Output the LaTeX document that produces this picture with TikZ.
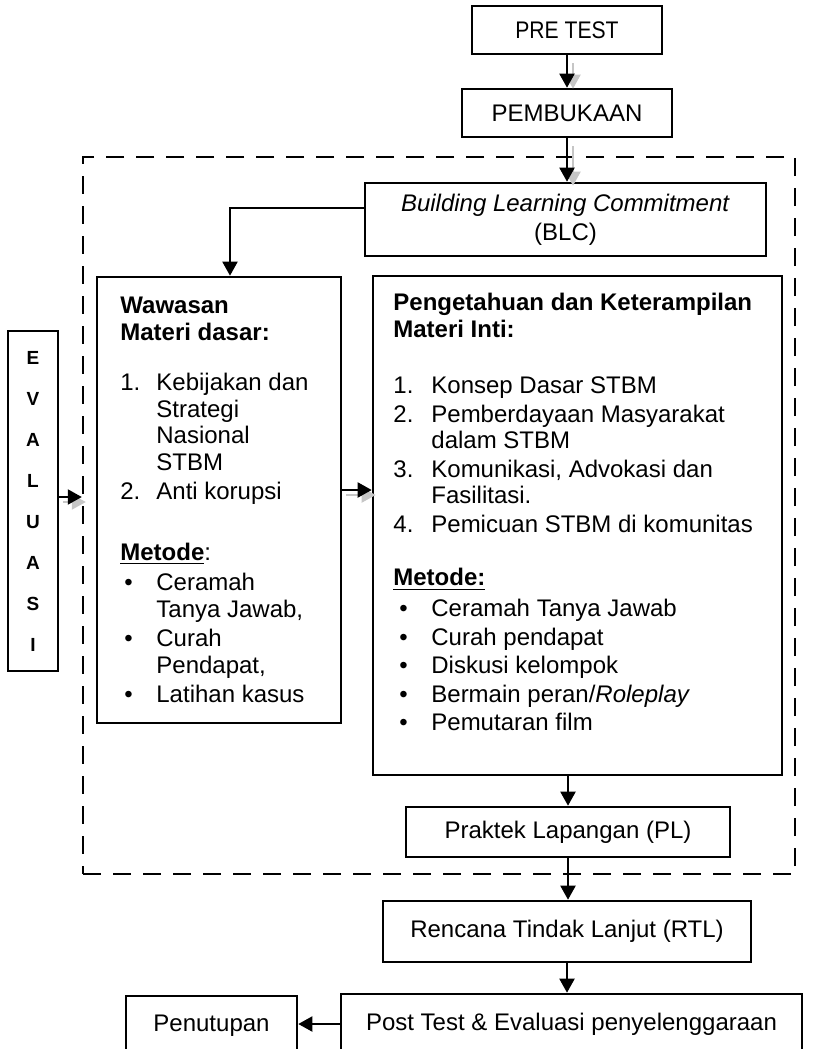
\documentclass[tikz,border=0pt]{standalone}
\usepackage{fontspec}
\setmainfont{Liberation Sans}
\newfontfamily\narrowfont[FakeStretch=0.88]{Liberation Sans}
\usepackage{array}
\usetikzlibrary{arrows.meta, positioning}

\begin{document}
\begin{tikzpicture}[x = 0.5pt, y = -0.5pt,
			> = {Triangle[length=7pt, width=7.5pt]},
			font = \fontsize{12}{13.25}\selectfont,
			box/.style = {draw, line width=1.3pt, inner sep=0pt, align=center},
			link/.style = {->, line width=1pt},
			ghost/.style = {->, line width=1pt, gray!45},
			frame/.style = {draw, line width=1.2pt, dash pattern=on 9pt off 6pt}]
			\useasboundingbox (0,0) rectangle (818,1049);
			\clip (0,0) rectangle (818,1049);
			
			% dashed frame round the core sessions
			\node[frame, minimum width=356pt, minimum height=358.5pt] (frame) at (439,515.5) {};
			
			\node[box, minimum width=95pt, minimum height=24pt,
				font=\narrowfont\fontsize{12}{14}\selectfont] (pretest) at (567,30) {PRE TEST};
			\node[box, minimum width=105pt, minimum height=24pt] (pembukaan) at (567,113) {PEMBUKAAN};
			\node[box, minimum width=200.5pt, minimum height=36.5pt,
				font=\fontsize{12}{14.5}\selectfont] (blc) at (565.5,219.5)
				{\textit{Building Learning Commitment}\\(BLC)};
			\node[box, minimum width=25pt, minimum height=170pt,
				font=\fontsize{9.5}{20.5}\selectfont\bfseries] (evaluasi) at (33,501)
				{E\\V\\A\\L\\U\\A\\S\\I};
			\node[box, minimum width=122pt, minimum height=223pt] (wawasan) at (219,500) {};
			\node[box, minimum width=204.5pt, minimum height=249.5pt] (inti) at (577.5,525.5) {};
			\node[box, minimum width=162pt, minimum height=25pt] (praktek) at (568,832) {Praktek Lapangan (PL)};
			\node[box, minimum width=184pt, minimum height=30.5pt] (rtl) at (567,931.5) {Rencana Tindak Lanjut (RTL)};
			\node[box, minimum width=230.5pt, minimum height=36pt, text height=8pt, text depth=8pt]
				(posttest) at (571.5,1030) {Post Test \& Evaluasi penyelenggaraan};
			\node[box, minimum width=85.5pt, minimum height=35pt, text height=8pt, text depth=8pt]
				(penutupan) at (211.5,1031) {Penutupan};
			
			% box contents
			\node[anchor=north west, inner sep=0pt] (wawasantext) at (120,295) {%
				\begin{tabular}{@{}p{18pt}@{}l@{}}
					\multicolumn{2}{@{}l@{}}{\textbf{Wawasan}}\\
					\multicolumn{2}{@{}l@{}}{\textbf{Materi dasar:}}\\[12pt]
					1. & Kebijakan dan\\
					& Strategi\\
					& Nasional\\
					& STBM\\[1.5pt]
					2. & Anti korupsi\\[17pt]
					\multicolumn{2}{@{}l@{}}{\underline{\textbf{Metode}}:}\\[2pt]
					\hspace{2pt}\textbullet & Ceramah\\
					& Tanya Jawab,\\[1.5pt]
					\hspace{2pt}\textbullet & Curah\\
					& Pendapat,\\[1.5pt]
					\hspace{2pt}\textbullet & Latihan kasus
				\end{tabular}};
			\node[anchor=north west, inner sep=0pt] (intitext) at (393,292) {%
				\begin{tabular}{@{}p{19pt}@{}l@{}}
					\multicolumn{2}{@{}l@{}}{\textbf{Pengetahuan dan Keterampilan}}\\
					\multicolumn{2}{@{}l@{}}{\textbf{Materi Inti:}}\\[15pt]
					1. & Konsep Dasar STBM\\[1pt]
					2. & Pemberdayaan Masyarakat\\
					& dalam STBM\\[1pt]
					3. & Komunikasi, Advokasi dan\\
					& Fasilitasi.\\[1pt]
					4. & Pemicuan STBM di komunitas\\[13.5pt]
					\multicolumn{2}{@{}l@{}}{\underline{\textbf{Metode:}}}\\[2.25pt]
					\hspace{3pt}\textbullet & Ceramah Tanya Jawab\\[1pt]
					\hspace{3pt}\textbullet & Curah pendapat\\[1pt]
					\hspace{3pt}\textbullet & Diskusi kelompok\\[1pt]
					\hspace{3pt}\textbullet & Bermain peran/\textit{Roleplay}\\[1pt]
					\hspace{3pt}\textbullet & Pemutaran film
				\end{tabular}};
			
			\coordinate (bend) at (230,208);
			\coordinate (evalrow) at (0,497);
			\coordinate (midrow) at (0,490);
			\coordinate (closerow) at (0,1024);
			
			% grey shadows of some arrows
			\draw[ghost] ([shift={(3pt,-4pt)}]pretest.south) -- ([shift={(3pt,-0.5pt)}]pembukaan.north);
			\draw[ghost] ([shift={(3pt,-4pt)}]pembukaan.south) -- ([shift={(3pt,-2pt)}]pembukaan.south |- blc.north);
			\draw[ghost] ([shift={(2pt,-2.5pt)}]evaluasi.east |- evalrow) -- ([shift={(2pt,-2.5pt)}]frame.west |- evalrow);
			\draw[ghost] ([shift={(2pt,-2.5pt)}]wawasan.east |- midrow) -- ([shift={(2pt,-2.5pt)}]inti.west |- midrow);
			
			\draw[link] (pretest.south) -- (pembukaan.north);
			\draw[link] (pembukaan.south) -- (pembukaan.south |- blc.north);
			\draw[link] (blc.west |- bend) -- (bend) -- (bend |- wawasan.north);
			\draw[link] (evaluasi.east |- evalrow) -- (frame.west |- evalrow);
			\draw[link] (wawasan.east |- midrow) -- (inti.west |- midrow);
			\draw[link] (praktek.north |- inti.south) -- (praktek.north);
			\draw[link] (praktek.south) -- (praktek.south |- rtl.north);
			\draw[link] (rtl.south) -- (rtl.south |- posttest.north);
			\draw[link] (posttest.west |- closerow) -- (penutupan.east |- closerow);
		\end{tikzpicture}
\end{document}
